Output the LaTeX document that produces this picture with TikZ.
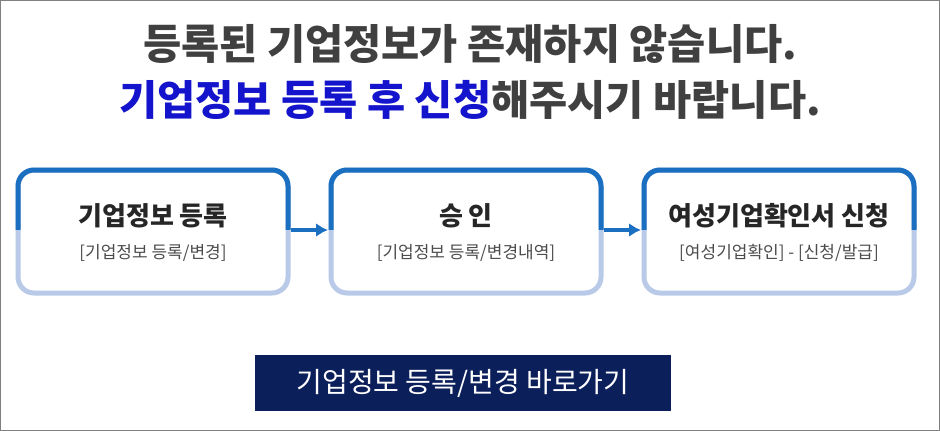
\documentclass[tikz,border=0pt]{standalone}
\usepackage{fontspec}
\usetikzlibrary{arrows.meta}
\newfontfamily\kr{Noto Sans CJK KR}
\newcommand\krb{\kr\bfseries}
\begin{document}
\begin{tikzpicture}[x=1pt,y=-1pt,
  lo/.style={draw=lightb,line width=5pt,rounded corners=16pt},
  hi/.style={draw=darkb,line width=5pt,rounded corners=16pt},
  ttl/.style={font=\krb\fontsize{26}{30}\selectfont,text=black!85},
  sub/.style={font=\kr\fontsize{17}{20}\selectfont,text=black!70},
  arr/.style={draw=darkb,line width=3.5pt,-{Latex[length=12pt,width=14pt]}}]
\definecolor{darkb}{HTML}{1A6FC0}
\definecolor{lightb}{HTML}{B9C9E8}
\definecolor{navy}{HTML}{0B1F5A}
\definecolor{titleblue}{HTML}{1414CC}
\useasboundingbox (0,0) rectangle (940,431);
\draw[black!50,line width=1pt] (0.5,0.5) rectangle (939.5,430.5);
\node[font=\krb\fontsize{41.5}{46}\selectfont,text=black!75] (t1) at (470,44) {등록된 기업정보가 존재하지 않습니다.};
\node[font=\krb\fontsize{41.5}{46}\selectfont,text=black!75] (t2) at (470,100) {\textcolor{titleblue}{기업정보 등록 후 신청}해주시기 바랍니다.};
\foreach \n/\xa/\xb/\ta/\tb in {b1/18/288/{기업정보 등록}/{[기업정보 등록/변경]},
  b2/331/601/{승 인}/{[기업정보 등록/변경내역]},
  b3/644/914/{여성기업확인서 신청}/{[여성기업확인] - [신청/발급]}}{
  \draw[lo] (\xa,170) rectangle (\xb,293);
  \begin{scope}
    \clip (\xa-5,160) rectangle (\xb+5,229);
    \draw[hi] (\xa,170) rectangle (\xb,293);
  \end{scope}
  \coordinate (\n w) at (\xa-3,230);
  \coordinate (\n e) at (\xb+3,230);
  \node[ttl] (\n t) at ({(\xa+\xb)/2},216) {\ta};
  \node[sub] (\n s) at ({(\xa+\xb)/2},253) {\tb};
}
\draw[arr] (b1e) -- (b2w);
\draw[arr] (b2e) -- (b3w);
\node[fill=navy,minimum width=416pt,minimum height=56pt,text=white,font=\kr\fontsize{28}{30}\selectfont] (btn) at (463,383) {기업정보 등록/변경 바로가기};
\end{tikzpicture}
\end{document}
